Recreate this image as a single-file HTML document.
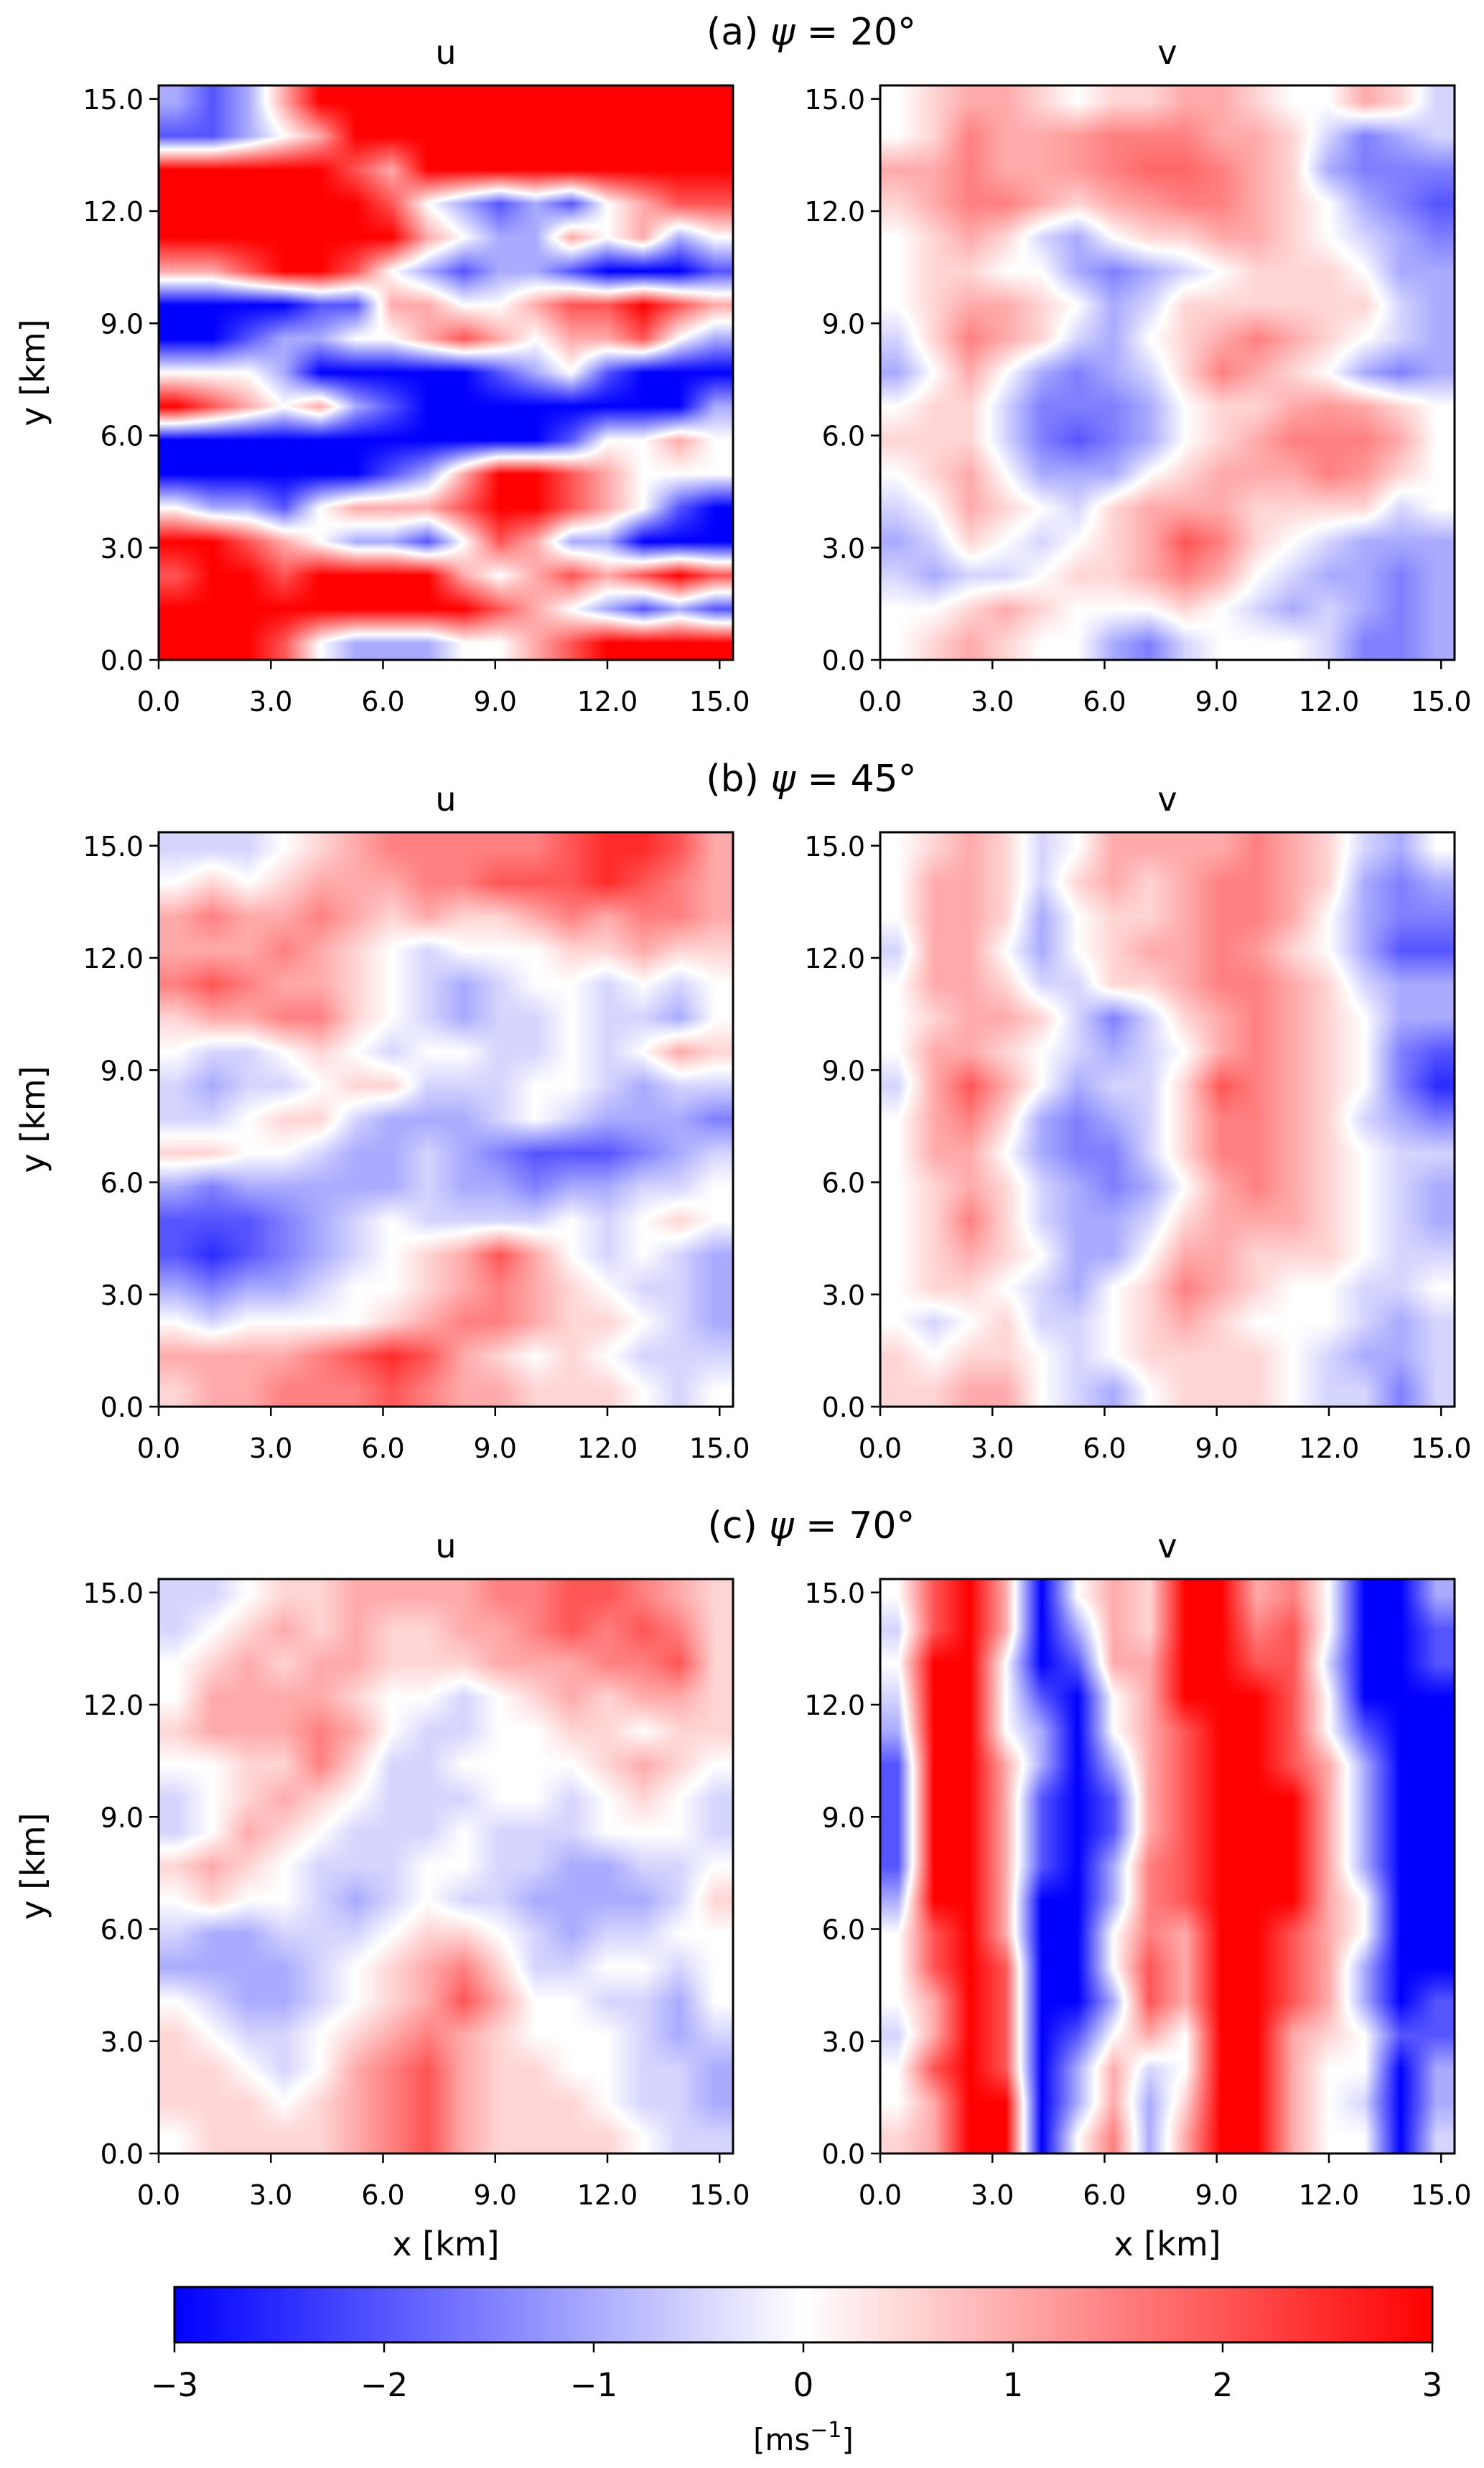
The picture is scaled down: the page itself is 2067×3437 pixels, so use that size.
<!DOCTYPE html>
<html><head><meta charset="utf-8">
<style>
html,body{margin:0;padding:0;background:#fff;}
#fig{position:relative;width:2067px;height:3437px;overflow:hidden;background:#fff;font-family:"DejaVu Sans","Liberation Sans",sans-serif;}
canvas{position:absolute;}
svg{position:absolute;left:0;top:0;}
</style></head>
<body>
<div id="fig">
<canvas id="c-a-u" width="800" height="800" style="left:221px;top:119px"></canvas>
<canvas id="c-a-v" width="800" height="800" style="left:1226px;top:119px"></canvas>
<canvas id="c-b-u" width="800" height="800" style="left:221px;top:1159px"></canvas>
<canvas id="c-b-v" width="800" height="800" style="left:1226px;top:1159px"></canvas>
<canvas id="c-c-u" width="800" height="800" style="left:221px;top:2199px"></canvas>
<canvas id="c-c-v" width="800" height="800" style="left:1226px;top:2199px"></canvas>
<svg id="ov" width="2067" height="3437" xmlns="http://www.w3.org/2000/svg">
<defs>
<linearGradient id="bwr" x1="0" x2="1" y1="0" y2="0">
<stop offset="0" stop-color="#0000ff"/><stop offset="0.5" stop-color="#ffffff"/><stop offset="1" stop-color="#ff0000"/>
</linearGradient>
</defs>
</svg>
</div>
<script>
const extentKm = 15.36;
const xTickValues = [0, 3, 6, 9, 12, 15];
const yTickValues = [0, 3, 6, 9, 12, 15];
const tickLabels = ['0.0', '3.0', '6.0', '9.0', '12.0', '15.0'];
const cbTickValues = [-3, -2, -1, 0, 1, 2, 3];
const cbTickLabels = ['\u22123', '\u22122', '\u22121', '0', '1', '2', '3'];
const rowTitles = ['(a) ', '(b) ', '(c) '];
const rowAngles = ['20°', '45°', '70°'];
const vmin = -3, vmax = 3;

const uA = [
[-1,-2,-1,1,3,3,3,3,3,3,3,3,3,3,3,3],
[-2,-2,-1,0,1,3,3,3,3,3,3,3,3,3,3,3],
[3,3,3,3,3,2,1,3,3,3,3,3,3,3,3,3],
[3,3,3,3,3,3,2,0,-1,-2,-1,-2,0,1,2,2],
[3,3,3,3,3,3,3,1,0,-1,-1,1,0,1,-1,0],
[1,1,2,3,3,2,0,-1,-2,-1,-1,-2,-3,-3,-3,-2],
[-3,-3,-3,-3,-2,-2,1,1,0,0,1,2,2,3,2,1],
[-3,-3,-2,-1,-1,0,0,1,2,1,0,1,1,2,0,-1],
[0,0,0,-1,-3,-3,-3,-3,-3,-2,-1,0,-2,-3,-3,-3],
[3,2,1,0,1,-1,-2,-3,-3,-3,-3,-3,-3,-3,-3,-1],
[-3,-3,-3,-3,-3,-3,-3,-3,-3,-3,-3,-2,0,0,1,0],
[-3,-3,-3,-3,-3,-3,-2,-1,1,3,3,2,1,0,0,0],
[0,-1,-1,-2,0,1,1,1,2,3,3,2,1,0,-2,-3],
[3,3,2,1,0,-1,-1,-2,0,2,1,-1,-1,-3,-3,-3],
[2,3,3,2,3,3,3,3,1,0,1,2,1,2,3,2],
[3,3,3,3,3,3,3,3,3,2,1,0,-1,-2,-1,-2],
[3,3,3,2,0,-1,-1,-1,0,0,1,2,3,3,3,3]
];
const vA = [
[0,0.5,1,1,0.5,0,0.5,0.5,1,1,0.5,0,0,1,0.5,-0.5],
[0,0.5,1.5,1,1,1.2,1.5,1.5,1.5,1,1,0.5,-0.5,-1.5,-1,-0.5],
[1,1,1.5,1,1,1.2,1.5,1.8,1.8,1.5,1,0.5,-1,-1.5,-1.5,-1.5],
[0.5,1,1.5,1.5,1,0.5,1,1.2,1.5,1.5,1,0.5,0,-1,-1.5,-2],
[0,0.5,1,0.5,-0.5,-1,0,0.5,0.5,1,1,0.5,0,-0.5,-1,-1.5],
[0,0.5,0.5,0,0,-1,-1.5,-1,-0.5,0,0.5,0.5,0.5,0,-1,-1],
[0,0.5,1,1,0.5,0,-1,-0.5,0.5,0.5,0.5,0.5,0.5,0.5,-0.5,-1],
[-0.5,0.5,1.5,1,0.5,-0.5,-1,0,0.5,1,1.5,1,0.5,0,-0.5,-1],
[-1,0,1,0,-1,-1.5,-1,-0.5,0.5,1.5,1,0.5,0,-1,-1.5,-1],
[0,0.5,0.5,-0.5,-1.5,-1.5,-1.5,-1,0,0.5,0.5,1,1.2,1,0.5,0],
[0.5,0.5,0.5,-0.5,-1.5,-2,-1.5,-1,0,0.5,1,1.5,1.5,1.5,1,0],
[0,0.5,1,0,-1,-1,-1,0,0.5,1,1,1,1.5,1.2,0.5,0],
[-0.5,0,1,0.5,0,-0.5,0.5,1,1,1,0.5,0.5,0.5,0.5,-0.5,0],
[-1,-0.5,0.5,0,-0.5,0,0.5,1,2,1.5,0.5,0,-0.5,-1,-1,-1],
[-0.5,-1,-0.5,-0.5,0,0.5,0.5,1,1.5,1,0,-0.5,-1,-1,-1.5,-1],
[0,0,0.5,1,0.5,0,0,0,0.5,0,-0.5,-1,-0.5,-1,-1.5,-1],
[0,0.5,1,0.5,0,0,-1,-1.5,-0.5,0,0,0,-0.5,-1.5,-1.5,-1]
];
const uB = [
[-0.5,-0.5,-0.5,0,0.5,1,1.5,1.5,1.5,1.5,1.5,2,2.5,2.5,2,1],
[0,0.5,0,0.5,1,1,1,1.5,1.5,2,2,2,2.5,2,1.5,1],
[1,1.5,1,1,1.5,1,0.5,1,0.5,0.5,1,1.5,1,1.5,1.5,1],
[1,1,1,1.5,1,0.5,0,-0.5,0,0,0,0.5,0.5,1,0.5,0.5],
[1.5,2,1.5,1,1,0.5,0,-0.5,-1,-0.5,0,0,-0.5,0,-0.5,0],
[0.5,1,1,1.5,1.5,0.5,0,-0.5,-1,-0.5,-0.5,0,-0.5,-0.5,-1,0],
[0,-0.5,-0.5,0,0.5,0,-0.5,0,0,-0.5,-0.5,0,-0.5,0,1,0.5],
[-0.5,-1,-0.5,-0.5,0,0.5,0.5,-0.5,-0.5,-0.5,0,0,-0.5,-1,-0.5,-0.5],
[-0.5,-0.5,0,0.5,0.5,-0.5,-1,-1,-1,-0.5,0,-0.5,-1,-1,-1,-1.5],
[0.5,0.5,0,0,-0.5,-1,-1,-0.5,-1,-1.5,-2,-2,-2,-1.5,-1,-0.5],
[-1,-1.5,-1,-1,-1,-1,-1,-0.5,-1,-1,-1.5,-1,-1,-0.5,-0.5,0],
[-2,-2,-2,-1.5,-1,-0.5,0,-0.5,-0.5,-0.5,-0.5,0,-0.5,0,0.5,0],
[-2,-2.5,-2,-1.5,-1,-0.5,0,0.5,1,2,1,0,-0.5,0,-0.5,-1],
[-1,-1.5,-1,-1,-0.5,0,0,0.5,1,1.5,1,0.5,0,-0.5,-0.5,-1],
[0,-0.5,0,0,0,0,0.5,1,1.5,1.5,1,0.5,0.5,0,-0.5,-1],
[1,1,1,1,1.5,2,2.5,2,1,0.5,0,0.5,0,-0.5,-0.5,-0.5],
[0.5,1,1,1.5,1.5,1.5,2,1.5,1,1,0.5,0.5,0.5,0,-0.5,0]
];
const vB = [
[0,0.5,1,0.5,-0.5,0,1,1,1,1,1.5,1,0.5,-0.5,-1,0],
[0,1,1,0.5,-0.5,0.5,1,0.5,1,1.5,1.5,1,0.5,-1,-1.5,-1],
[0,1,1,0.5,-1,0,0.5,0.5,1,1.5,1.5,1,0,-1,-1.5,-1.5],
[-0.5,1,1,0,-1,0,0.5,1,1,1.5,1.2,0.5,0,-1,-2,-2],
[0,1,1,0.5,-0.5,-0.5,0.5,0.5,1,1.5,1.5,1,0.5,-0.5,-1,-1],
[0,0.5,1,1,0.5,-0.5,-1.5,-0.5,0.5,1,1.5,1,0.5,0,-1,-1],
[0,1,1,0.5,0,-0.5,-1,-0.5,0,1,1.5,1,0.5,0,-1.5,-2],
[-0.5,1,2,1,0,-1,-0.5,-0.5,0.5,2,1.5,1,0.5,0,-1.5,-2.5],
[0,1,1.5,0.5,-1,-1.5,-1,-0.5,0.5,1.5,1.5,1,0.5,-0.5,-1,-1.5],
[0,1,1,0,-1,-1.5,-1.5,-0.5,0.5,1.5,1.5,1,0.5,0,-0.5,-0.5],
[0,0.5,1,0.5,-0.5,-1,-1.5,-1,0,1,1.5,1,0.5,0,-0.5,-1],
[0,0.5,1.5,0.5,-0.5,-1,-1,-0.5,0.5,1,1,1,0.5,0,-0.5,-1],
[0,0.5,1,0.5,0,-1,-1,0,1,1,0.5,0.5,0.5,0,-0.5,-0.5],
[0,0.5,0.5,0,-0.5,-1,0,0.5,1.5,1,0.5,0,0,-0.5,-0.5,0],
[0,-0.5,0,0.5,-0.5,-0.5,0,0.5,1,0.5,0,0,0,-0.5,-1,-0.5],
[0.5,0,0.5,0.5,0,-0.5,0,0.5,0.5,0.5,0.5,0,-0.5,-1,-1,-0.5],
[0.5,0.5,1,1,0,-0.5,-1,0,0.5,0.5,0.5,0,-0.5,-0.5,-1.5,-0.5]
];
const uC = [
[-0.5,-0.5,0,0.5,0.5,1,1,1,1,1.5,1.5,2,2,1.5,1,0.5],
[-0.5,0,0.5,1,0.5,1,0.5,0.5,1,1,1.5,2,1.5,2,1.5,0.5],
[0,0.5,1,0.5,1,1,0.5,0.5,0.5,1,1,1,1.5,1.5,2,0.5],
[0,1,1,1,1,0.5,0,0,-0.5,0,0.5,1,0.5,1,1,0.5],
[0.5,1,1,1,1.5,1,0,-0.5,-0.5,0,0,0.5,0.5,0,0.5,0.5],
[0,0,0.5,0.5,1.5,0.5,-0.5,-0.5,0,0,0,0,0.5,1,0.5,0],
[-0.5,0,0.5,1,0.5,0,-0.5,-0.5,-0.5,0,0,-0.5,0,0.5,0,-0.5],
[-0.5,0,1,0.5,0,-0.5,-0.5,-0.5,0,-0.5,-0.5,-0.5,0,0,0,-0.5],
[0.5,1,0.5,0,-0.5,-0.5,-0.5,0,0,-0.5,-0.5,-1,-1,-0.5,-0.5,0],
[0,0.5,0,0,-0.5,-1,-0.5,0,-0.5,-0.5,-1,-1,-1,-1,-0.5,0.5],
[-0.5,-1,-1,-0.5,-0.5,-0.5,0,0.5,0.5,0,-0.5,-1,-0.5,-0.5,0,0],
[-1,-1,-1,-1,-0.5,0,0.5,1,1.5,0.5,-0.5,-0.5,0,0,-0.5,0],
[0,-0.5,-1,-1,-0.5,0,0.5,1,2,1,0,0,-0.5,-0.5,-1,0],
[0.5,0,-0.5,-0.5,0,0.5,1,1.5,1,0.5,0,0,0,-0.5,-1,-0.5],
[0.5,0.5,0,-0.5,0,1,1.5,2,1,0.5,0.5,0,0,-0.5,-0.5,-1],
[0.5,0.5,0.5,0,0.5,1,1.5,2,1,0.5,0.5,0.5,0,-0.5,-0.5,-1],
[0,0.5,0.5,0.5,0.5,1,1.5,2,1,0.5,0.5,0.5,0.5,0,-0.5,-0.5]
];
const vC = [
[0,2,3,1,-3,0,1,0.5,3,3,1,1.5,0,-3,-3,-1],
[-0.5,2,3,1,-3,-1,1,0.5,3,3,1.5,2,0,-3,-3,-2],
[0,3,3,0,-3,-2,1,1,3,3,2,2,-0.5,-3,-3,-2],
[-0.5,3,3,0,-2,-3,0,1,3,3,3,2,0,-3,-3,-3],
[-1,3,3,0,-1,-3,0,1,2,3,3,2,0,-2,-3,-3],
[-2,3,3,1,-1,-3,-1,1,2,3,3,2,1,-1,-3,-3],
[-2,3,3,1,-2,-3,-2,1,2,3,3,3,1,-1,-3,-3],
[-2,3,3,1,-2,-3,-2,1,2,3,3,3,1,-1,-3,-3],
[-2,3,3,1,-2,-3,-1,1.5,2,3,3,3,1,-1,-3,-3],
[-1,3,3,1,-3,-3,-1,1.5,2,3,3,3,1,0,-3,-3],
[0,2,3,1,-3,-3,0,1.5,1,3,3,2,1,0,-3,-3],
[0,2,3,2,-3,-3,0,2,1,3,3,2,1,-1,-3,-3],
[0,1,3,2,-3,-3,-1,2,1,3,3,2,1,-1,-3,-2],
[-0.5,1,3,2,-3,-2,0,1,0,3,3,1,0.5,0,-2,-2],
[0,2,3,2,-3,-1,1,-0.5,0,3,3,1,0,0,-3,-1],
[0,1,3,3,-3,-1,1,-1,0.5,3,3,1,0,-0.5,-3,-1],
[0.5,1,3,3,-3,0,1.5,-1,1,3,3,1,0,0,-3,-0.5]
];

const PW = 800;
const panels = [
  {id:'c-a-u', data:uA, left:221, top:119, name:'a-u'},
  {id:'c-a-v', data:vA, left:1226, top:119, name:'a-v'},
  {id:'c-b-u', data:uB, left:221, top:1159, name:'b-u'},
  {id:'c-b-v', data:vB, left:1226, top:1159, name:'b-v'},
  {id:'c-c-u', data:uC, left:221, top:2199, name:'c-u'},
  {id:'c-c-v', data:vC, left:1226, top:2199, name:'c-v'}
];

function xScale(p, v) { return p.left + v / extentKm * PW; }
function yScale(p, v) { return p.top + PW - v / extentKm * PW; }
function bwr(v) {
  let t = (v - vmin) / (vmax - vmin);
  t = Math.max(0, Math.min(1, t));
  if (t < 0.5) { const c = Math.round(510 * t); return [c, c, 255]; }
  const c = Math.round(510 * (1 - t)); return [255, c, c];
}

function drawHeat(p) {
  const cv = document.getElementById(p.id);
  const ctx = cv.getContext('2d');
  const data = p.data;
  const nr = data.length, nc = data[0].length;
  const x0 = xScale(p, 0) - p.left, x1 = xScale(p, extentKm) - p.left;
  const y0 = yScale(p, extentKm) - p.top, y1 = yScale(p, 0) - p.top;
  const img = ctx.createImageData(PW, PW);
  for (let py = 0; py < PW; py++) {
    let gy = ((py + 0.5 - y0) / (y1 - y0)) * nr - 0.5;
    gy = Math.max(0, Math.min(nr - 1, gy));
    const r0 = Math.floor(gy), r1 = Math.min(nr - 1, r0 + 1), fy = gy - r0;
    for (let px = 0; px < PW; px++) {
      let gx = ((px + 0.5 - x0) / (x1 - x0)) * nc - 0.5;
      gx = Math.max(0, Math.min(nc - 1, gx));
      const c0 = Math.floor(gx), c1 = Math.min(nc - 1, c0 + 1), fx = gx - c0;
      const v = (data[r0][c0] * (1 - fx) + data[r0][c1] * fx) * (1 - fy) +
                (data[r1][c0] * (1 - fx) + data[r1][c1] * fx) * fy;
      const col = bwr(v);
      const k = (py * PW + px) * 4;
      img.data[k] = col[0]; img.data[k+1] = col[1]; img.data[k+2] = col[2]; img.data[k+3] = 255;
    }
  }
  ctx.putImageData(img, 0, 0);
}

const svg = document.getElementById('ov');
const NS = 'http://www.w3.org/2000/svg';
function mk(tag, attrs, parent) {
  const e = document.createElementNS(NS, tag);
  for (const k in attrs) e.setAttribute(k, attrs[k]);
  (parent || svg).appendChild(e);
  return e;
}

panels.forEach((p, i) => {
  drawHeat(p);
  const g = mk('g', {});
  
  
  const fr = mk('rect', {x: p.left, y: p.top, width: PW, height: PW, fill: 'none', stroke: '#000', 'stroke-width': 3}, g);
  
  
  xTickValues.forEach((v, j) => {
    const x = xScale(p, v);
    const t = mk('line', {x1: x, x2: x, y1: p.top + PW, y2: p.top + PW + 13, stroke: '#000', 'stroke-width': 2.5}, g);
    
    
    const l = mk('text', {x: x, y: p.top + PW + 71, 'text-anchor': 'middle', 'font-size': 38}, g);
    l.textContent = tickLabels[j];
    
    
  });
  yTickValues.forEach((v, j) => {
    const y = yScale(p, v);
    const t = mk('line', {x1: p.left - 13, x2: p.left, y1: y, y2: y, stroke: '#000', 'stroke-width': 2.5}, g);
    
    
    const l = mk('text', {x: p.left - 21, y: y + 14, 'text-anchor': 'end', 'font-size': 38}, g);
    l.textContent = tickLabels[j];
    
    
  });
  const st = mk('text', {x: p.left + PW / 2, y: p.top - 30, 'text-anchor': 'middle', 'font-size': 46}, g);
  st.textContent = (i % 2 === 0) ? 'u' : 'v';
  
  
  if (i % 2 === 0) {
    const yl = mk('text', {x: 0, y: 0, 'text-anchor': 'middle', 'font-size': 46, transform: 'translate(62,' + (p.top + PW / 2) + ') rotate(-90)'}, g);
    yl.textContent = 'y [km]';
    
    
  }
  if (i >= 4) {
    const xl = mk('text', {x: p.left + PW / 2, y: 3141, 'text-anchor': 'middle', 'font-size': 46}, g);
    xl.textContent = 'x [km]';
    
    
  }
});

rowTitles.forEach((t, r) => {
  const tx = mk('text', {x: 1130, y: 62 + r * 1040, 'text-anchor': 'middle', 'font-size': 52});
  
  
  const a = mk('tspan', {}, tx); a.textContent = t;
  const b = mk('tspan', {'font-style': 'italic'}, tx); b.textContent = 'ψ';
  const c = mk('tspan', {}, tx); c.textContent = ' = ' + rowAngles[r];
});

// colorbar
const cb = {left: 243, right: 1995, top: 3185, bottom: 3262};
function cbScale(v) { return cb.left + (v - vmin) / (vmax - vmin) * (cb.right - cb.left); }
const cbg = mk('g', {});


const cbr = mk('rect', {x: cbScale(vmin), y: cb.top, width: cbScale(vmax) - cbScale(vmin), height: cb.bottom - cb.top, fill: 'url(#bwr)', stroke: '#000', 'stroke-width': 3}, cbg);


cbTickValues.forEach((v, j) => {
  const x = cbScale(v);
  const t = mk('line', {x1: x, x2: x, y1: cb.bottom, y2: cb.bottom + 14, stroke: '#000', 'stroke-width': 2.5}, cbg);
  
  
  const l = mk('text', {x: x, y: 3337, 'text-anchor': 'middle', 'font-size': 45}, cbg);
  l.textContent = cbTickLabels[j];
  
  
});
const ul = mk('text', {x: 1119, y: 3412, 'text-anchor': 'middle', 'font-size': 42}, cbg);


const u1 = mk('tspan', {}, ul); u1.textContent = '[ms';
const u2 = mk('tspan', {dy: -18, 'font-size': 30}, ul); u2.textContent = '\u22121';
const u3 = mk('tspan', {dy: 18}, ul); u3.textContent = ']';
</script>
</body></html>
